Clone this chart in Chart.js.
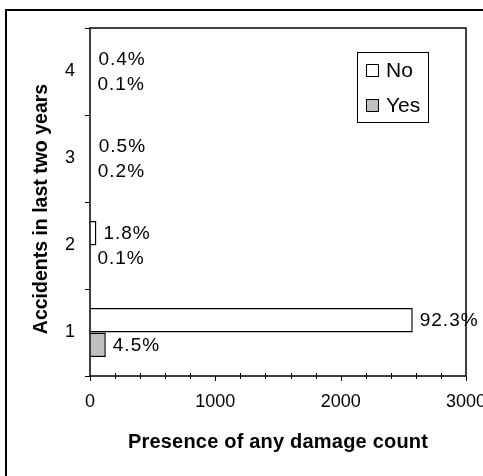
<!DOCTYPE html>
<html>
<head>
<meta charset="utf-8">
<script src="https://cdn.jsdelivr.net/npm/chart.js@4"></script>
<style>
  html, body { margin: 0; padding: 0; background: #fff; overflow: hidden; }
  canvas { display: block; }
</style>
</head>
<body>
<canvas id="c" width="483" height="476"></canvas>
<script>
// Accident counts per number of accidents, split by damage presence
const categories = ['1', '2', '3', '4'];
const seriesNames = ['No', 'Yes'];
const noCounts = [2575, 51, 14, 11];
const yesCounts = [126, 3, 6, 4];
const xTicks = [0, 1000, 2000, 3000];
const xMinorStep = 200;
const xTitle = 'Presence of any damage count';
const yTitle = 'Accidents in last two years';

const FONT = '"Liberation Sans", Arial, Helvetica, sans-serif';
const total = [...noCounts, ...yesCounts].reduce((a, b) => a + b, 0);
const pct = v => (v / total * 100).toFixed(1) + '%';
const seriesFill = ['#ffffff', '#c0c0c0'];

const decor = {
  id: 'decor',
  beforeDraw(chart) {
    const ctx = chart.ctx;
    ctx.save();
    ctx.fillStyle = '#fff';
    ctx.fillRect(0, 0, chart.width, chart.height);
    // outer frame
    ctx.strokeStyle = '#000';
    ctx.lineWidth = 2;
    ctx.beginPath();
    ctx.moveTo(6, chart.height + 4);
    ctx.lineTo(6, 10);
    ctx.lineTo(chart.width + 4, 10);
    ctx.stroke();
    ctx.restore();
  },
  afterDatasetsDraw(chart) {
    const { ctx, chartArea: a, scales: { x } } = chart;
    ctx.save();
    // plot frame
    ctx.strokeStyle = '#000';
    ctx.lineWidth = 1.5;
    ctx.strokeRect(a.left, a.top, a.right - a.left, a.bottom - a.top);
    // x tick marks
    ctx.lineWidth = 1;
    for (let v = x.min; v <= x.max; v += xMinorStep) {
      const px = Math.round(x.getPixelForValue(v)) + 0.5;
      const major = xTicks.includes(v);
      ctx.beginPath();
      ctx.moveTo(px, a.bottom - (major ? 0 : 3));
      ctx.lineTo(px, a.bottom + (major ? 5 : 3));
      ctx.stroke();
    }
    // value labels
    ctx.fillStyle = '#000';
    ctx.font = `19px ${FONT}`;
    ctx.letterSpacing = '1px';
    ctx.textBaseline = 'middle';
    ctx.textAlign = 'left';
    chart.data.datasets.forEach((ds, di) => {
      chart.getDatasetMeta(di).data.forEach((bar, i) => {
        ctx.fillText(pct(ds.data[i]), bar.x + 7, bar.y + 1);
      });
    });
    // legend
    ctx.letterSpacing = '0px';
    const lx = a.right - 109, ly = a.top + 24;
    ctx.lineWidth = 1;
    ctx.strokeRect(lx + 0.5, ly + 0.5, 71, 70);
    ctx.font = `21px ${FONT}`;
    seriesNames.forEach((name, i) => {
      const sy = ly + 12 + i * 35;
      ctx.fillStyle = seriesFill[i];
      ctx.fillRect(lx + 9, sy, 13, 13);
      ctx.strokeRect(lx + 9.5, sy + 0.5, 12, 12);
      ctx.fillStyle = '#000';
      ctx.fillText(name, lx + 29, sy + 7.5);
    });
    // axis titles
    ctx.textAlign = 'center';
    ctx.font = `bold 20px ${FONT}`;
    ctx.letterSpacing = '0.2px';
    ctx.fillText(xTitle, (a.left + a.right) / 2, 442);
    ctx.letterSpacing = '0px';
    ctx.translate(42, (a.top + a.bottom) / 2 + 7);
    ctx.rotate(-Math.PI / 2);
    ctx.font = `bold 19.5px ${FONT}`;
    ctx.fillText(yTitle, 0, 0);
    ctx.restore();
  }
};

// hairline bars stay hidden behind the axis
const barBorder = c => (c.raw >= 30 ? 1.5 : 0);

new Chart(document.getElementById('c'), {
  type: 'bar',
  data: {
    labels: categories,
    datasets: [
      { label: seriesNames[0], data: noCounts, backgroundColor: seriesFill[0], borderColor: '#000', borderWidth: barBorder },
      { label: seriesNames[1], data: yesCounts, backgroundColor: seriesFill[1], borderColor: '#000', borderWidth: barBorder }
    ]
  },
  options: {
    indexAxis: 'y',
    responsive: false,
    animation: false,
    devicePixelRatio: 1,
    categoryPercentage: 0.565,
    barPercentage: 1,
    layout: { padding: { top: 28, right: 17, left: 0, bottom: 0 } },
    plugins: { legend: { display: false }, tooltip: { enabled: false } },
    scales: {
      x: {
        type: 'linear',
        min: 0,
        max: 3000,
        border: { display: false },
        grid: { drawOnChartArea: false, tickLength: 5, color: 'transparent' },
        ticks: {
          stepSize: xMinorStep,
          autoSkip: false,
          maxRotation: 0,
          padding: 10,
          color: '#000',
          font: { family: FONT, size: 18 },
          callback: v => xTicks.includes(v) ? String(v) : ''
        },
        afterFit(s) { s.height = 100; s.paddingLeft = 0; s.paddingRight = 0; }
      },
      y: {
        type: 'category',
        reverse: true,
        offset: true,
        border: { display: false },
        grid: { offset: true, drawOnChartArea: false, tickLength: 5, color: '#000', lineWidth: 1 },
        ticks: { padding: 10, color: '#000', font: { family: FONT, size: 18 } },
        afterFit(s) { s.width = 90; s.paddingTop = 0; s.paddingBottom = 0; }
      }
    }
  },
  plugins: [decor]
});
</script>
</body>
</html>
